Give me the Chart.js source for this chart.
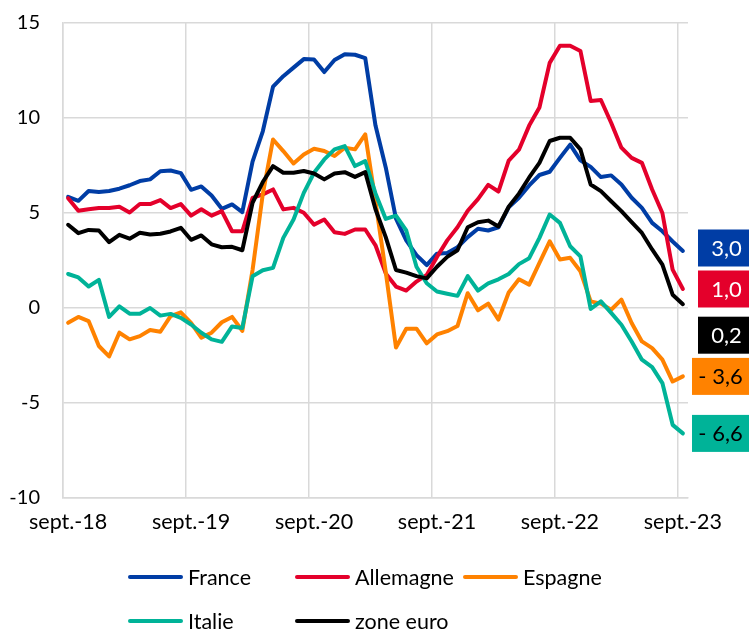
<!DOCTYPE html>
<html>
<head>
<meta charset="utf-8">
<script src="https://cdn.jsdelivr.net/npm/chart.js@4/dist/chart.umd.min.js"></script>
<style>
  html, body { margin: 0; padding: 0; background: #fff; }
  #wrap { position: relative; width: 749px; height: 631px; overflow: hidden; }
  #c { position: absolute; left: 0; top: 0; }
  #legend { position: absolute; left: 0; top: 0; width: 749px; height: 631px; pointer-events: none;
            font-family: Lato, "Open Sans", sans-serif; font-size: 21.5px; color: #000; }
  .item { position: absolute; display: flex; align-items: center; white-space: nowrap; }
  .swatch { width: 55px; height: 4px; border-radius: 2px; margin-right: 5px; }
</style>
</head>
<body>
<div id="wrap">
  <canvas id="c" width="749" height="631"></canvas>
  <div id="legend"></div>
</div>
<script>
// ---- data ----
const monthNames = ['sept.', 'oct.', 'nov.', 'déc.', 'janv.', 'févr.', 'mars', 'avr.', 'mai', 'juin', 'juil.', 'août'];
const startYear = 18;
const nMonths = 61;
const categories = [];
for (let i = 0; i < nMonths; i++) {
  const m = monthNames[i % 12];
  const y = startYear + Math.floor((i + 8) / 12);
  categories.push(m + '-' + y);
}

const seriesNames = ['France', 'Allemagne', 'Espagne', 'Italie', 'zone euro'];
const seriesColors = ['#003DA5', '#E4002B', '#FF8200', '#00B398', '#000000'];

const france = [5.85, 5.64, 6.16, 6.11, 6.16, 6.28, 6.46, 6.68, 6.77, 7.2, 7.24, 7.1, 6.22, 6.4, 5.92, 5.22, 5.45, 5.05, 7.7, 9.3,
  11.65, 12.2, 12.65, 13.1, 13.08, 12.42, 13.05, 13.35, 13.33, 13.15, 9.6, 7.4, 4.7, 3.56, 2.78, 2.26, 2.86, 2.9, 3.2, 3.73,
  4.17, 4.08, 4.25, 5.3, 5.8, 6.45, 7.0, 7.17, 7.9, 8.6, 7.77, 7.43, 6.89, 6.98, 6.5, 5.8, 5.27, 4.48, 4.04, 3.5, 3.0];
const allemagne = [5.78, 5.12, 5.2, 5.26, 5.26, 5.33, 5.03, 5.47, 5.47, 5.68, 5.26, 5.47, 4.86, 5.2, 4.86, 5.1, 4.04, 4.04, 5.8, 5.98,
  6.24, 5.19, 5.27, 5.01, 4.39, 4.66, 3.99, 3.9, 4.13, 4.13, 3.3, 1.82, 1.13, 0.92, 1.39, 1.74, 2.69, 3.56, 4.25, 5.12,
  5.73, 6.48, 6.13, 7.76, 8.33, 9.6, 10.55, 12.9, 13.8, 13.8, 13.53, 10.9, 10.95, 9.75, 8.44, 7.9, 7.64, 6.24, 5.0, 2.02, 1.0];
const espagne = [-0.78, -0.47, -0.69, -2.0, -2.55, -1.3, -1.65, -1.48, -1.16, -1.25, -0.43, -0.23, -0.78, -1.56, -1.3, -0.75, -0.47, -1.2, 2.0, 6.0,
  8.87, 8.26, 7.61, 8.08, 8.38, 8.26, 8.0, 8.44, 8.35, 9.14, 5.6, 1.9, -2.08, -1.09, -1.09, -1.86, -1.39, -1.22, -0.95, 0.78,
  -0.12, 0.23, -0.61, 0.82, 1.51, 1.23, 2.37, 3.51, 2.55, 2.64, 1.93, 0.35, 0.23, -0.09, 0.44, -0.79, -1.76, -2.11, -2.72, -3.87, -3.6];
const italie = [1.79, 1.61, 1.13, 1.48, -0.47, 0.09, -0.3, -0.3, 0.0, -0.4, -0.31, -0.52, -0.87, -1.3, -1.65, -1.78, -0.97, -1.05, 1.67, 1.99,
  2.11, 3.69, 4.66, 6.06, 7.12, 7.82, 8.35, 8.52, 7.47, 7.73, 6.03, 4.69, 4.86, 4.08, 2.17, 1.3, 0.87, 0.75, 0.64, 1.68,
  0.92, 1.3, 1.51, 1.79, 2.31, 2.62, 3.69, 4.92, 4.48, 3.25, 2.72, -0.05, 0.35, -0.26, -0.88, -1.76, -2.72, -3.11, -3.95, -6.15, -6.6];
const zoneEuro = [4.38, 3.94, 4.11, 4.08, 3.47, 3.85, 3.65, 3.96, 3.87, 3.91, 4.03, 4.22, 3.59, 3.82, 3.35, 3.2, 3.22, 3.04, 5.54, 6.63,
  7.47, 7.12, 7.12, 7.21, 7.08, 6.77, 7.08, 7.15, 6.9, 7.15, 5.2, 3.73, 2.0, 1.86, 1.68, 1.56, 2.17, 2.69, 3.04, 4.25,
  4.51, 4.6, 4.29, 5.33, 6.02, 6.87, 7.64, 8.79, 8.96, 8.96, 8.35, 6.5, 6.15, 5.62, 5.1, 4.52, 3.95, 3.08, 2.28, 0.7, 0.2];

const allSeries = [france, allemagne, espagne, italie, zoneEuro];
const endLabels = ['3,0', '1,0', '- 3,6', '- 6,6', '0,2'];
const yTicks = [-10, -5, 0, 5, 10, 15];

// ---- chart ----
const FONT = 'Lato, "Open Sans", sans-serif';
const GRID = '#d9d9d9';

const endLabelPlugin = {
  id: 'endLabels',
  afterDatasetsDraw(chart, args, opts) {
    const ctx = chart.ctx;
    const yScale = chart.scales.y;
    const area = chart.chartArea;
    ctx.save();
    ctx.font = '22px ' + FONT;
    ctx.textAlign = 'center';
    ctx.textBaseline = 'middle';
    chart.data.datasets.forEach((ds, i) => {
      const last = ds.data[ds.data.length - 1];
      const yc = yScale.getPixelForValue(last) + opts.shift[i];
      const wide = last < 0;
      const left = area.right + (wide ? opts.gapWide : opts.gap);
      const h = opts.boxHeight;
      ctx.fillStyle = ds.borderColor;
      ctx.fillRect(left, yc - h / 2, chart.width - left, h);
      ctx.fillStyle = opts.textColors[i];
      ctx.fillText(endLabels[i], left + opts.textInset, yc + 1);
    });
    ctx.restore();
  }
};

new Chart(document.getElementById('c'), {
  type: 'line',
  data: {
    labels: categories,
    datasets: seriesNames.map((name, i) => ({
      label: name,
      data: allSeries[i],
      borderColor: seriesColors[i],
      backgroundColor: seriesColors[i],
      borderWidth: 4,
      pointRadius: 0,
      tension: 0,
      borderJoinStyle: 'round',
      borderCapStyle: 'round',
      order: seriesNames.length - i,
      fill: false
    }))
  },
  options: {
    responsive: false,
    animation: false,
    devicePixelRatio: 1,
    layout: { padding: { top: 23, right: 61, left: 0, bottom: 0 } },
    plugins: {
      legend: { display: false },
      tooltip: { enabled: false },
      endLabels: {
        shift: [-3, 0, 0, 0, 31],
        gap: 10,
        gapWide: 4,
        boxHeight: 37,
        textInset: 28.5,
        textColors: ['#fff', '#fff', '#000', '#000', '#fff']
      }
    },
    scales: {
      x: {
        type: 'category',
        offset: true,
        afterFit(scale) { scale.height = 133; },
        grid: {
          offset: true,
          drawTicks: false,
          lineWidth: 1.5,
          color: (c) => (c.index % 12 === 0 ? GRID : 'rgba(0,0,0,0)')
        },
        border: { display: true, color: GRID, width: 1.5 },
        ticks: {
          autoSkip: false,
          maxRotation: 0,
          minRotation: 0,
          padding: 11,
          color: '#000',
          font: { family: FONT, size: 21.5 },
          callback: (v, i) => (i % 12 === 0 ? categories[i] : '')
        }
      },
      y: {
        min: -10,
        max: 15,
        afterFit(scale) { scale.width = 63; },
        afterBuildTicks(scale) { scale.ticks = yTicks.map(v => ({ value: v })); },
        grid: { drawTicks: true, tickLength: 23, tickColor: 'rgba(0,0,0,0)', color: GRID, lineWidth: 1.5 },
        border: { display: true, color: GRID, width: 1.5 },
        ticks: {
          padding: 0,
          color: '#000',
          font: { family: FONT, size: 20 }
        }
      }
    }
  },
  plugins: [endLabelPlugin]
});

// ---- HTML legend ----
const legendRows = [[0, 1, 2], [3, 4]];
const colX = [128, 295, 463];
const rowY = [577, 621];
const legend = document.getElementById('legend');
legendRows.forEach((row, r) => {
  row.forEach((si, c) => {
    const d = document.createElement('div');
    d.className = 'item';
    d.style.left = colX[c] + 'px';
    d.style.top = (rowY[r] - 13) + 'px';
    d.style.height = '26px';
    const sw = document.createElement('span');
    sw.className = 'swatch';
    sw.style.background = seriesColors[si];
    const t = document.createElement('span');
    t.textContent = seriesNames[si];
    d.appendChild(sw);
    d.appendChild(t);
    legend.appendChild(d);
  });
});
</script>
</body>
</html>
